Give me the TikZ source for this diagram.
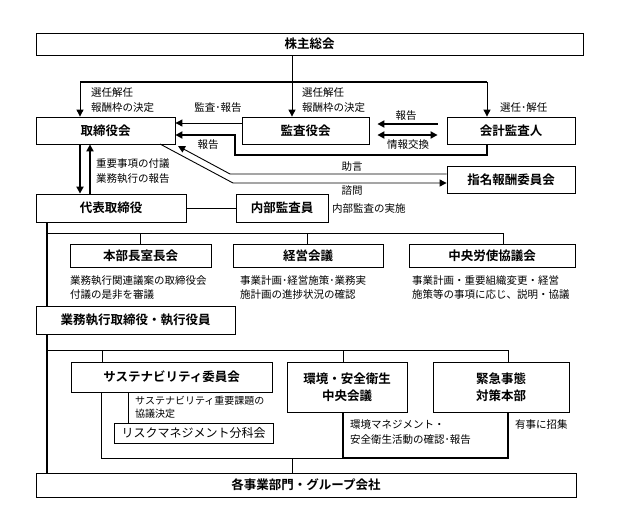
\documentclass[tikz,border=0pt]{standalone}
\usepackage{fontspec}
\setmainfont{Noto Sans CJK JP}[BoldFont={Noto Sans CJK JP Bold}]
\usetikzlibrary{arrows.meta}

\tikzset{
  box/.style={draw, line width=0.8pt, fill=white, inner sep=0pt, align=center,
    font=\bfseries\fontsize{12.5}{17}\selectfont},
  lbl/.style={inner sep=0pt, align=left, font=\fontsize{10.5}{15}\selectfont},
  wire/.style={line width=0.9pt},
  heavy/.style={line width=1.8pt}
}

\begin{document}
\begin{tikzpicture}[x=1pt, y=-1pt, >={Triangle[length=7pt,width=7pt]}]
  \useasboundingbox (0,0) rectangle (623,525);

  % top level
  \node[box, minimum width=547pt, minimum height=22pt] (kabu) at (309.5,44) {株主総会};
  \node[box, minimum width=139pt, minimum height=27pt] (tori) at (105.5,130.5) {取締役会};
  \node[box, minimum width=127pt, minimum height=27pt] (kansa) at (305.5,130.5) {監査役会};
  \node[box, minimum width=128pt, minimum height=27pt] (kaikei) at (511,130.5) {会計監査人};
  \node[box, minimum width=128pt, minimum height=27pt] (shimei) at (511,179.5) {指名報酬委員会};
  \node[box, minimum width=150pt, minimum height=28pt] (daihyo) at (111,208) {代表取締役};
  \node[box, minimum width=92pt, minimum height=28pt] (naibu) at (282,208) {内部監査員};

  % meetings
  \node[box, minimum width=141pt, minimum height=23pt] (honbu) at (140.5,255.5) {本部長室長会};
  \node[box, minimum width=150pt, minimum height=23pt] (keiei) at (308,255.5) {経営会議};
  \node[box, minimum width=166pt, minimum height=23pt] (roushi) at (492,255.5) {中央労使協議会};
  \node[box, minimum width=199pt, minimum height=28pt] (gyomu) at (135.5,320) {業務執行取締役・執行役員};

  % committees
  \node[box, minimum width=201pt, minimum height=30pt] (sust) at (171.5,377) {サステナビリティ委員会};
  \node[box, minimum width=120pt, minimum height=50pt] (kankyo) at (347,387) {環境・安全衛生\\中央会議};
  \node[box, minimum width=136pt, minimum height=50pt] (kinkyu) at (501,387) {緊急事態\\対策本部};
  \node[box, minimum width=159pt, minimum height=20pt, font=\fontsize{12}{14}\selectfont] (risk) at (193.5,433) {リスクマネジメント分科会};
  \node[box, minimum width=540pt, minimum height=24pt] (kaku) at (306,485) {各事業部門・グループ会社};

  % labels
  \node[lbl, anchor=west] (selA) at (91,100.5) {選任解任\\報酬枠の決定};
  \node[lbl, anchor=west] (selB) at (302,100.5) {選任解任\\報酬枠の決定};
  \node[lbl, anchor=west] (selC) at (500,108) {選任･解任};
  \node[lbl] (kanrep) at (218,108) {監査･報告};
  \node[lbl] (kairep) at (208,145) {報告};
  \node[lbl] (kkrep) at (406,116) {報告};
  \node[lbl] (joho) at (408,145) {情報交換};
  \node[lbl] (jogen) at (352,167) {助言};
  \node[lbl] (shimon) at (352,191) {諮問};
  \node[lbl, anchor=west] (fugi) at (96,171.5) {重要事項の付議\\業務執行の報告};
  \node[lbl, anchor=west] (jisshi) at (332,209) {内部監査の実施};
  \node[lbl, anchor=west, font=\fontsize{10.5}{13.5}\selectfont] (honbuD) at (70,287.5) {業務執行関連議案の取締役会\\付議の是非を審議};
  \node[lbl, anchor=west, font=\fontsize{10.5}{13.5}\selectfont] (keieiD) at (240,287.5) {事業計画･経営施策･業務実\\施計画の進捗状況の確認};
  \node[lbl, anchor=west, font=\fontsize{10.5}{13.5}\selectfont] (roushiD) at (412,287.5) {事業計画・重要組織変更・経営\\施策等の事項に応じ、説明・協議};
  \node[lbl, anchor=west, font=\fontsize{10}{13}\selectfont] (sustD) at (135,407.5) {サステナビリティ重要課題の\\協議決定};
  \node[lbl, anchor=west] (kankyoD) at (350,432.5) {環境マネジメント・\\安全衛生活動の確認･報告};
  \node[lbl, anchor=west] (yuji) at (515,425) {有事に招集};

  % election lines
  \coordinate (selL) at (80,82);
  \coordinate (selM) at (292,82);
  \coordinate (selR) at (487,82);
  \draw[heavy] (selL) -- (selR);
  \draw[wire,->] (selL) -- (selL |- tori.north);
  \draw[wire,->] (selR) -- (selR |- kaikei.north);
  \draw[wire,->] (selM |- kabu.south) -- (selM |- kansa.north);

  % audit -> board
  \draw[wire,->] ([yshift=7.5pt]kansa.west) -- ([yshift=7.5pt]tori.east);
  \coordinate (repA) at (487,155);
  \coordinate (repB) at (235,135);
  \draw[heavy,->] (repA |- kaikei.south) -- (repA) -| (repB) -- (repB -| tori.east);

  % kansa <-> kaikei
  \draw[heavy,->] ([xshift=-9pt,yshift=6.5pt]kaikei.west) -- ([xshift=8pt,yshift=6.5pt]kansa.east);
  \draw[heavy,<->] ([xshift=-9pt,yshift=-4.5pt]kaikei.west) -- ([xshift=8pt,yshift=-4.5pt]kansa.east);

  % advisory committee
  \coordinate (advA) at (230,174);
  \coordinate (advB) at (178,146);
  \coordinate (askA) at (160,144);
  \coordinate (askB) at (233,183);
  \draw[wire,->] (advA -| shimei.west) -- (advA) -- (advB); % jogen
  \draw[wire,->] (askA) -- (askB) -- (askB -| shimei.west); % shimon

  % board <-> representative
  \draw[heavy,->] (80,0 |- tori.south) -- (80,0 |- daihyo.north);
  \draw[heavy,<-] (90,0 |- tori.south) -- (90,0 |- daihyo.north);
  \draw[wire] (daihyo.east) -- (naibu.west);

  % trunk and meetings bus
  \coordinate (busA) at (47,233);
  \draw[heavy] (busA |- daihyo.south) -- (busA |- gyomu.north);
  \draw[heavy] (busA |- gyomu.south) -- (busA |- kaku.north);
  \draw[wire] (busA) -- (503,233);
  \draw[wire] (140,233) -- (140,0 |- honbu.north);
  \draw[wire] (307,233) -- (307,0 |- keiei.north);
  \draw[wire] (503,233) -- (503,0 |- roushi.north);

  % committees bus
  \coordinate (busB) at (47,350);
  \draw[wire] (busB) -- (508,350);
  \draw[wire] (102,350) -- (102,0 |- sust.north);
  \draw[wire] (343,350) -- (343,0 |- kankyo.north);
  \draw[wire] (508,350) -- (508,0 |- kinkyu.north);

  % down to business units
  \coordinate (busC) at (101,458);
  \draw[wire] (128,0 |- sust.south) -- (128,0 |- risk.north);
  \draw[wire] (busC |- sust.south) -- (busC) -- (343,458);
  \draw[heavy] (343,0 |- kankyo.south) -- (343,458) -- (508,458) -- (508,0 |- kinkyu.south);
  \draw[wire] (292,458) -- (292,0 |- kaku.north);

\end{tikzpicture}
\end{document}
